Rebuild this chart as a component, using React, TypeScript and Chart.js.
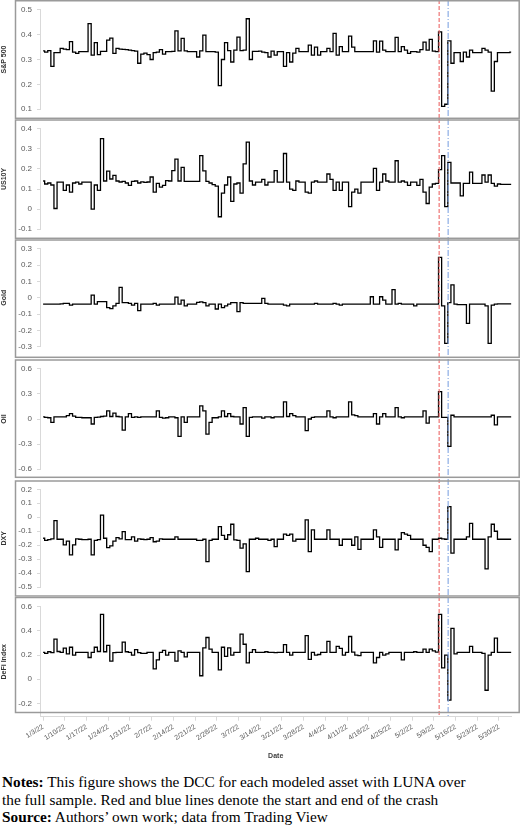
import React, { useEffect, useRef } from 'react';
import { Chart, registerables } from 'chart.js';

Chart.register(...registerables);

// Weekly date tick labels (tick i sits at day i*7, day 0 = 1/3/22)
const DATE_LABELS = ['1/3/22','1/10/22','1/17/22','1/24/22','1/31/22','2/7/22','2/14/22','2/21/22','2/28/22','3/7/22','3/14/22','3/21/22','3/28/22','4/4/22','4/11/22','4/18/22','4/25/22','5/2/22','5/9/22','5/16/22','5/23/22','5/30/22'];

// Crash window (days after 1/3/22)
const CRASH_START_DAY = 127.7;
const CRASH_END_DAY = 130.6;

// Daily DCC values, day 0 = 1/3/22 ... day 151 = 6/3/22
const SP500 = [
  0.335,0.33,0.336,0.272,0.328,0.328,0.345,0.342,0.34,0.372,
  0.33,0.325,0.332,0.332,0.332,0.444,0.318,0.368,0.32,0.333,
  0.333,0.378,0.386,0.325,0.345,0.342,0.341,0.34,0.338,0.336,
  0.334,0.285,0.322,0.326,0.32,0.30,0.328,0.33,0.34,0.322,
  0.332,0.332,0.333,0.415,0.335,0.385,0.335,0.332,0.332,0.332,
  0.31,0.335,0.398,0.332,0.332,0.332,0.33,0.195,0.30,0.368,
  0.336,0.29,0.338,0.39,0.336,0.338,0.464,0.30,0.333,0.333,
  0.334,0.33,0.328,0.31,0.334,0.318,0.332,0.332,0.272,0.328,
  0.29,0.326,0.345,0.332,0.332,0.332,0.358,0.318,0.35,0.318,
  0.332,0.332,0.345,0.332,0.405,0.318,0.352,0.332,0.332,0.394,
  0.35,0.332,0.332,0.332,0.332,0.332,0.332,0.375,0.33,0.374,
  0.338,0.332,0.332,0.332,0.389,0.332,0.352,0.338,0.325,0.332,
  0.332,0.33,0.34,0.37,0.338,0.381,0.334,0.332,0.411,0.111,
  0.12,0.375,0.285,0.328,0.328,0.292,0.33,0.31,0.338,0.328,
  0.328,0.328,0.345,0.338,0.33,0.173,0.292,0.328,0.328,0.328,
  0.328,0.33
];

const US10Y = [
  0.14,0.125,0.13,0.12,0.003,0.134,0.134,0.093,0.12,0.085,
  0.13,0.134,0.125,0.134,0.134,0.134,0.0,0.12,0.093,0.351,
  0.14,0.189,0.15,0.168,0.14,0.135,0.138,0.13,0.118,0.138,
  0.14,0.13,0.136,0.133,0.135,0.16,0.085,0.128,0.11,0.118,
  0.142,0.14,0.192,0.249,0.14,0.208,0.138,0.138,0.138,0.138,
  0.138,0.266,0.19,0.138,0.13,0.122,0.115,-0.038,0.08,0.12,
  0.16,0.039,0.125,0.13,0.08,0.225,0.334,0.14,0.12,0.134,
  0.134,0.148,0.12,0.134,0.134,0.192,0.134,0.134,0.277,0.134,
  0.1,0.093,0.14,0.134,0.134,0.085,0.08,0.134,0.14,0.134,
  0.134,0.134,0.175,0.148,0.093,0.134,0.093,0.134,0.134,0.012,
  0.085,0.1,0.08,0.134,0.134,0.134,0.134,0.203,0.093,0.134,
  0.175,0.14,0.134,0.134,0.241,0.134,0.14,0.134,0.118,0.134,
  0.134,0.118,0.148,0.085,0.028,0.11,0.125,0.128,0.197,0.266,
  0.012,0.233,0.13,0.13,0.13,0.066,0.128,0.128,0.184,0.128,
  0.128,0.128,0.17,0.134,0.17,0.128,0.115,0.125,0.123,0.123,
  0.123,0.123
];

const GOLD = [
  -0.039,-0.039,-0.039,-0.039,-0.039,-0.039,-0.037,-0.035,-0.035,-0.045,
  -0.039,-0.039,-0.039,-0.039,-0.039,-0.039,0.016,-0.039,-0.024,-0.024,
  -0.024,-0.06,-0.067,-0.05,-0.035,0.063,-0.03,-0.03,-0.035,-0.045,
  -0.035,-0.079,-0.039,-0.039,-0.039,-0.039,-0.035,-0.045,-0.039,-0.039,
  -0.039,-0.039,-0.039,0.004,-0.039,-0.015,-0.05,-0.039,-0.039,-0.039,
  -0.028,-0.025,-0.03,-0.05,-0.039,-0.039,-0.069,-0.039,-0.06,-0.05,
  -0.039,-0.03,-0.03,-0.085,-0.03,-0.035,-0.035,-0.035,-0.035,-0.035,
  -0.035,-0.004,-0.035,-0.039,-0.039,-0.039,-0.039,-0.039,-0.045,-0.05,
  -0.039,-0.039,-0.039,-0.039,-0.039,-0.039,-0.039,-0.039,-0.035,-0.039,
  -0.039,-0.039,-0.039,-0.039,-0.035,-0.039,-0.045,-0.039,-0.039,-0.039,
  -0.039,-0.039,-0.039,-0.039,-0.039,-0.039,0.006,-0.039,-0.039,0.006,
  -0.015,-0.039,-0.039,0.05,-0.039,-0.035,-0.039,-0.039,-0.039,-0.039,
  -0.05,-0.039,-0.039,-0.039,-0.039,-0.039,-0.039,-0.039,0.247,-0.05,
  -0.28,-0.03,0.079,-0.039,-0.042,-0.042,-0.042,-0.157,-0.039,-0.039,
  -0.039,-0.039,-0.039,-0.05,-0.28,-0.045,-0.039,-0.037,-0.037,-0.037,
  -0.037,-0.037
];

const OIL = [
  0.026,0.02,0.015,-0.04,0.026,0.026,0.026,0.026,0.04,0.065,
  0.035,0.02,0.02,0.015,0.015,0.015,-0.06,0.02,0.022,0.03,
  0.035,0.097,0.03,0.07,0.03,0.026,-0.133,0.026,0.065,0.02,
  0.026,0.02,0.026,0.026,0.026,0.026,0.026,0.097,0.02,0.01,
  0.015,0.026,0.026,0.015,-0.208,0.026,-0.04,0.026,0.026,0.026,
  0.026,0.156,0.097,-0.18,-0.04,0.015,0.015,0.026,0.097,0.03,
  0.065,0.03,0.026,0.026,-0.06,0.137,-0.208,0.02,0.026,0.026,
  0.026,0.01,0.026,0.026,0.015,0.026,0.026,0.026,0.204,0.03,
  0.065,0.04,0.026,0.026,0.026,-0.14,0.0,0.02,0.026,0.026,
  0.026,0.026,0.097,0.026,0.015,0.026,0.026,0.026,0.026,0.204,
  0.05,0.04,0.026,0.026,0.026,0.026,0.026,0.065,-0.06,0.026,
  0.065,0.026,0.026,0.026,0.137,0.026,0.015,0.026,0.026,0.026,
  0.026,0.026,0.026,0.097,-0.05,0.026,0.026,0.026,0.327,0.02,
  0.02,-0.327,0.045,0.026,0.026,0.026,0.026,0.026,0.026,0.026,
  0.026,0.026,0.026,0.026,0.026,0.045,-0.07,0.026,0.026,0.026,
  0.026,0.026
];

const DXY = [
  -0.15,-0.165,-0.16,-0.155,-0.024,-0.157,-0.157,-0.198,-0.17,-0.269,
  -0.198,-0.155,-0.157,-0.16,-0.16,-0.157,-0.269,-0.165,-0.16,0.016,
  -0.15,-0.217,-0.205,-0.17,-0.145,-0.155,-0.103,-0.16,-0.16,-0.14,
  -0.17,-0.155,-0.157,-0.16,-0.157,-0.145,-0.175,-0.17,-0.155,-0.157,
  -0.157,-0.157,-0.157,-0.14,-0.157,-0.157,-0.157,-0.157,-0.157,-0.157,
  -0.165,-0.165,-0.157,-0.317,-0.165,-0.157,-0.157,-0.067,-0.13,-0.157,
  -0.125,-0.05,-0.162,-0.165,-0.22,-0.19,-0.389,-0.157,-0.157,-0.15,
  -0.157,-0.157,-0.157,-0.165,-0.157,-0.21,-0.157,-0.157,-0.12,-0.13,
  -0.12,-0.17,-0.157,-0.157,-0.157,-0.019,-0.245,-0.09,-0.157,-0.157,
  -0.157,-0.157,-0.09,-0.157,-0.157,-0.157,-0.2,-0.157,-0.157,-0.157,
  -0.2,-0.14,-0.229,-0.157,-0.157,-0.157,-0.157,-0.09,-0.14,-0.215,
  -0.157,-0.157,-0.157,-0.157,-0.233,-0.157,-0.11,-0.12,-0.13,-0.157,
  -0.157,-0.157,-0.157,-0.2,-0.215,-0.245,-0.157,-0.157,-0.15,-0.155,
  -0.157,0.076,-0.257,-0.157,-0.157,-0.157,-0.157,-0.14,-0.043,-0.157,
  -0.157,-0.157,-0.157,-0.369,-0.14,-0.05,-0.1,-0.157,-0.157,-0.157,
  -0.157,-0.157
];

const DEFI = [
  0.223,0.215,0.228,0.22,0.332,0.23,0.223,0.258,0.21,0.265,
  0.2,0.223,0.223,0.223,0.223,0.18,0.223,0.265,0.23,0.537,
  0.228,0.28,0.15,0.22,0.223,0.223,0.308,0.228,0.223,0.2,
  0.245,0.22,0.215,0.215,0.223,0.223,0.086,0.16,0.223,0.24,
  0.2,0.223,0.223,0.15,0.235,0.223,0.185,0.223,0.223,0.223,
  0.223,0.029,0.26,0.346,0.25,0.223,0.223,0.078,0.265,0.19,
  0.26,0.2,0.223,0.223,0.373,0.29,0.136,0.223,0.245,0.223,
  0.223,0.223,0.228,0.223,0.223,0.22,0.223,0.223,0.286,0.223,
  0.2,0.223,0.223,0.223,0.223,0.362,0.165,0.223,0.2,0.205,
  0.223,0.223,0.313,0.223,0.223,0.272,0.255,0.2,0.223,0.354,
  0.225,0.2,0.195,0.223,0.223,0.223,0.223,0.136,0.18,0.223,
  0.2,0.21,0.223,0.223,0.223,0.223,0.16,0.223,0.223,0.223,
  0.228,0.223,0.223,0.25,0.223,0.25,0.235,0.225,0.537,0.094,
  0.2,-0.173,0.422,0.21,0.223,0.223,0.223,0.223,0.272,0.223,
  0.223,0.223,0.215,-0.091,0.2,0.223,0.34,0.223,0.223,0.223,
  0.223,0.223
];

// Y tick labels per panel
const SP500_TICKS = [0.1, 0.2, 0.3, 0.4, 0.5];
const US10Y_TICKS = [-0.1, 0, 0.1, 0.2, 0.3, 0.4];
const GOLD_TICKS = [-0.3, -0.2, -0.1, 0, 0.1, 0.2, 0.3];
const OIL_TICKS = [-0.6, -0.3, 0, 0.3, 0.6];
const DXY_TICKS = [-0.5, -0.4, -0.3, -0.2, -0.1, 0, 0.1, 0.2];
const DEFI_TICKS = [-0.2, 0, 0.2, 0.4, 0.6];

const PANELS = [
  { title: 'S&P 500', values: SP500, ticks: SP500_TICKS },
  { title: 'US10Y', values: US10Y, ticks: US10Y_TICKS },
  { title: 'Gold', values: GOLD, ticks: GOLD_TICKS },
  { title: 'Oil', values: OIL, ticks: OIL_TICKS },
  { title: 'DXY', values: DXY, ticks: DXY_TICKS },
  { title: 'DeFi Index', values: DEFI, ticks: DEFI_TICKS },
];

// Layout (pixels) per panel
const LAYOUT = [
  { height: 119, padTop: 9.3, padBottom: 9, boxTop: 0.75, boxBottom: 118.3 },
  { height: 120, padTop: 9.3, padBottom: 9, boxTop: 1, boxBottom: 119.3 },
  { height: 120, padTop: 6, padBottom: 12.3, boxTop: 1, boxBottom: 118.3 },
  { height: 120, padTop: 9.3, padBottom: 9.7, boxTop: 1, boxBottom: 118.3 },
  { height: 118, padTop: 10.3, padBottom: 9.7, boxTop: 2, boxBottom: 117 },
  { height: 173, padTop: 8.7, padBottom: 0, boxTop: 0.5, boxBottom: 115.5 },
];

const FONT = "'Liberation Sans', Arial, sans-serif";

const decorPlugin = {
  id: 'decor',
  afterDatasetsDraw(chart: any, _args: any, opts: any) {
    const { ctx, chartArea, scales } = chart;
    const x = scales.x;
    const lineBottom = opts.isLast ? chartArea.bottom : chart.height;
    const lines = [
      { day: CRASH_START_DAY, color: 'rgb(236, 104, 104)', dash: [4, 2] },
      { day: CRASH_END_DAY, color: 'rgb(128, 164, 226)', dash: [6, 2, 1, 2] },
    ];
    for (const l of lines) {
      const px = x.getPixelForValue(l.day);
      ctx.save();
      ctx.globalAlpha = 1;
      ctx.strokeStyle = l.color;
      ctx.lineWidth = 1.1;
      ctx.setLineDash(l.dash);
      ctx.beginPath();
      ctx.moveTo(px, 0);
      ctx.lineTo(px, lineBottom);
      ctx.stroke();
      ctx.restore();
    }
  },
  afterDraw(chart: any, _args: any, opts: any) {
    const { ctx } = chart;
    ctx.save();
    ctx.strokeStyle = '#9a9a9a';
    ctx.lineWidth = 1.5;
    ctx.setLineDash([]);
    ctx.strokeRect(15.5, opts.boxTop, 519.2 - 15.5, opts.boxBottom - opts.boxTop);
    ctx.restore();
  },
};

function Panel({ index }: { index: number }) {
  const ref = useRef<HTMLCanvasElement | null>(null);
  const panel = PANELS[index];
  const lay = LAYOUT[index];
  const isLast = index === PANELS.length - 1;

  useEffect(() => {
    if (!ref.current) return;
    const tickVals = panel.ticks;
    const tMin = Math.min(...tickVals);
    const tMax = Math.max(...tickVals);
    const yMin = isLast ? tMin - 0.11 : tMin;

    const chart = new Chart(ref.current, {
      type: 'line',
      data: {
        datasets: [
          {
            data: panel.values.map((v, i) => ({ x: i, y: v })),
            borderColor: '#000',
            borderWidth: 1.3,
            pointRadius: 0,
            stepped: 'middle',
            fill: false,
          },
        ],
      },
      options: {
        responsive: false,
        animation: false,
        events: [],
        layout: { padding: { top: lay.padTop, bottom: lay.padBottom, left: 0, right: 8.6 } },
        plugins: {
          legend: { display: false },
          tooltip: { enabled: false },
          decor: { isLast, boxTop: lay.boxTop, boxBottom: lay.boxBottom },
        } as any,
        scales: {
          x: {
            type: 'linear',
            min: -1,
            max: 151,
            display: isLast,
            afterBuildTicks: (s: any) => {
              s.ticks = DATE_LABELS.map((_, i) => ({ value: i * 7 }));
            },
            afterFit: (s: any) => {
              if (isLast) s.height = 53.3;
            },
            ticks: {
              autoSkip: false,
              minRotation: 32,
              maxRotation: 32,
              padding: 2,
              color: '#595959',
              font: { family: FONT, size: 7 },
              callback: (_v: any, i: number) => DATE_LABELS[i],
            },
            grid: { drawOnChartArea: false, tickLength: 4, color: '#d9d9d9' },
            border: { color: '#d9d9d9' },
            title: {
              display: true,
              text: 'Date',
              color: '#404040',
              font: { family: FONT, size: 7, weight: 'bold' },
              padding: { top: 0, bottom: 10 },
            },
          },
          y: {
            type: 'linear',
            min: yMin,
            max: tMax,
            afterBuildTicks: (s: any) => {
              s.ticks = tickVals.map((v) => ({ value: v }));
            },
            afterFit: (s: any) => {
              s.width = 40;
            },
            ticks: {
              padding: 5,
              color: '#595959',
              font: { family: FONT, size: 8 },
              callback: (v: any) => `${v}`,
            },
            grid: { drawOnChartArea: false, tickLength: 3, color: '#d9d9d9' },
            border: { color: '#d9d9d9' },
            title: {
              display: true,
              text: panel.title,
              color: '#333',
              font: { family: FONT, size: 7, weight: 'bold' },
              padding: 0,
            },
          },
        },
      } as any,
      plugins: [decorPlugin as any],
    });
    return () => chart.destroy();
  }, []);

  return (
    <canvas
      ref={ref}
      width={520}
      height={lay.height}
      style={{ display: 'block', width: 520, height: lay.height }}
    />
  );
}

export default function App() {
  return (
    <div
      style={{
        position: 'absolute',
        left: 0,
        top: 0,
        width: 520,
        height: 825,
        background: '#fff',
        overflow: 'hidden',
      }}
    >
      {PANELS.map((_, i) => (
        <Panel key={i} index={i} />
      ))}
      <div
        style={{
          position: 'absolute',
          left: 2,
          top: 773,
          width: 518,
          fontFamily: "'Liberation Serif', 'Times New Roman', serif",
          fontSize: 15.3,
          lineHeight: '17.6px',
          color: '#000',
          whiteSpace: 'nowrap',
        }}
      >
        <div>
          <b>Notes:</b> This figure shows the DCC for each modeled asset with LUNA over
        </div>
        <div>the full sample. Red and blue lines denote the start and end of the crash</div>
        <div>
          <b>Source:</b> Authors’ own work; data from Trading View
        </div>
      </div>
    </div>
  );
}
